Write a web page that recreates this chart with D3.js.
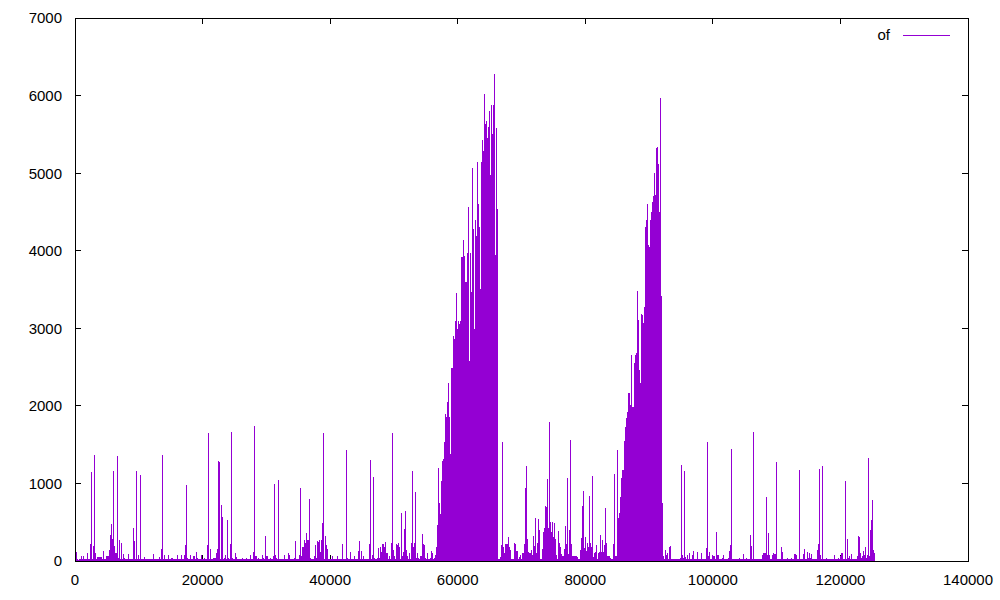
<!DOCTYPE html>
<html>
<head>
<meta charset="utf-8">
<script src="https://cdn.jsdelivr.net/npm/d3@7/dist/d3.min.js"></script>
<style>
  html, body { margin: 0; padding: 0; background: #fff; }
  svg { display: block; }
  text { font-family: "Liberation Sans", Arial, sans-serif; font-size: 15px; fill: #000; }
</style>
</head>
<body>
<svg id="chart" width="1000" height="600"></svg>
<script>
// Series "of": impulses sampled every sampleStep units of x, starting at x = 0
const seriesName = "of";
const sampleStep = 156.77;
const ofValues = [
  160,120,120,20,15,20,20,70,20,70,20,30,20,100,20,30,220,1150,30,190,
  1370,100,30,50,50,50,50,50,30,130,20,20,65,65,65,140,335,477,285,1160,
  190,107,107,1350,40,270,30,235,20,90,40,20,20,20,85,20,20,20,30,430,
  260,20,1160,30,77,20,1110,20,30,20,55,20,20,30,25,20,20,20,20,90,
  20,20,20,30,20,55,30,155,1370,20,77,30,20,20,77,20,20,40,40,30,
  20,20,20,77,20,20,20,77,20,20,77,200,980,45,20,20,77,20,20,65,
  65,20,120,45,20,20,20,77,20,20,45,20,20,200,1650,20,155,20,20,45,
  45,45,100,155,1290,1280,20,720,563,20,45,77,20,530,45,20,220,1660,45,20,
  20,100,55,20,20,30,20,20,45,20,20,20,45,20,20,20,77,20,20,120,
  1740,65,65,20,45,20,20,20,77,45,20,320,65,65,20,20,45,20,20,65,
  990,77,45,20,1045,20,20,20,20,20,77,20,20,20,100,77,20,20,20,20,
  45,260,20,20,20,77,945,65,175,175,270,230,355,270,270,800,45,20,20,20,
  65,205,45,260,250,270,120,270,485,1650,30,320,205,150,20,20,20,20,65,20,
  20,20,20,65,20,20,20,20,220,20,20,20,1430,45,20,20,120,20,20,20,
  65,20,20,20,130,260,30,130,20,65,20,20,20,20,20,220,1300,30,77,1087,
  45,20,30,45,165,45,175,120,220,220,185,250,107,100,30,65,30,230,1650,140,
  65,20,220,205,230,185,30,620,65,120,410,650,140,65,20,100,20,235,1160,185,
  235,895,45,100,45,20,65,65,350,220,205,45,20,100,30,20,45,130,107,20,
  45,77,180,465,1200,750,600,1030,1290,1315,1530,1900,1860,2055,2295,1860,1380,2490,2490,2900,
  2860,3100,3450,2990,3100,3050,3100,3920,3920,4140,3930,3600,3600,3970,4560,2580,3970,3470,5060,4280,
  2990,4390,4190,5150,4600,4300,3510,5150,5430,5280,6020,5630,5670,5450,5600,5800,4970,5880,5500,5880,
  6280,3950,5580,4540,20,20,50,205,1540,185,100,220,220,220,315,185,140,30,30,30,
  230,220,130,130,30,55,77,30,100,100,220,935,1225,290,120,100,100,140,77,320,
  195,555,100,235,535,400,30,30,150,370,420,710,690,1055,420,1790,500,380,500,305,
  485,290,77,30,385,235,185,90,65,65,150,450,220,1065,90,400,1560,220,65,70,
  70,70,70,55,30,30,140,300,710,905,170,315,135,230,185,840,235,185,1095,55,
  100,120,205,30,100,120,335,120,270,120,205,680,230,60,60,70,40,20,20,220,
  1120,70,70,1430,550,615,830,1065,1175,1175,1550,1730,1840,1925,2160,2170,2010,2655,1990,1990,
  2550,2655,2680,3485,3105,2460,2290,3190,3170,3065,3280,4310,4395,4600,4075,4050,4395,4500,4630,4700,
  5000,4720,5320,5340,5120,4500,5965,3415,745,65,30,140,77,107,30,175,195,30,20,20,
  20,20,20,20,20,20,45,1240,77,45,1160,55,30,77,30,100,30,20,77,130,
  30,20,30,120,30,20,20,107,30,20,20,20,165,1535,65,120,30,20,77,65,
  65,20,380,77,77,20,20,20,45,77,20,20,20,30,45,130,205,1440,30,20,
  20,20,20,20,20,45,20,20,20,90,20,20,45,20,20,20,335,195,30,1665,
  30,20,20,30,20,20,20,20,77,100,100,100,820,77,357,77,20,30,77,100,
  90,90,1280,20,30,20,20,175,120,20,20,20,20,45,20,20,20,45,20,20,
  90,90,77,30,30,1175,20,20,30,90,150,30,20,120,45,100,45,90,20,20,
  20,20,20,140,220,1190,77,20,1220,20,20,20,45,20,20,20,30,20,20,20,
  77,20,30,30,45,20,65,100,100,20,20,1030,20,285,45,65,20,90,20,30,
  20,20,20,65,320,315,107,45,65,133,77,175,45,77,1330,65,400,530,785,140,
  107
];
const xTicks = [0, 20000, 40000, 60000, 80000, 100000, 120000, 140000];
const yTicks = [0, 1000, 2000, 3000, 4000, 5000, 6000, 7000];
const xDomain = [0, 140000];
const yDomain = [0, 7000];

const data = ofValues.map((v, i) => ({ x: i * sampleStep, y: v }));

const svg = d3.select("#chart");
const plotLeft = 75, plotRight = 968, plotTop = 18, plotBottom = 561;
const x = d3.scaleLinear().domain(xDomain).range([plotLeft, plotRight]);
const y = d3.scaleLinear().domain(yDomain).range([plotBottom, plotTop]);
const color = "#9400d3";
const snap = v => Math.floor(v) + 0.5;

svg.append("rect").attr("width", 1000).attr("height", 600).attr("fill", "#fff");

// ticks (inward, mirrored)
const tk = svg.append("g").attr("stroke", "#000").attr("stroke-width", 1).attr("shape-rendering", "crispEdges");
yTicks.forEach(t => {
  const yy = snap(y(t));
  tk.append("line").attr("x1", plotLeft).attr("x2", plotLeft + 6).attr("y1", yy).attr("y2", yy);
  tk.append("line").attr("x1", plotRight - 6).attr("x2", plotRight).attr("y1", yy).attr("y2", yy);
});
xTicks.forEach(t => {
  const xx = snap(x(t));
  tk.append("line").attr("x1", xx).attr("x2", xx).attr("y1", plotBottom).attr("y2", plotBottom - 6);
  tk.append("line").attr("x1", xx).attr("x2", xx).attr("y1", plotTop).attr("y2", plotTop + 6);
});

// impulses
svg.append("g")
  .attr("stroke", color).attr("stroke-width", 1).attr("shape-rendering", "crispEdges")
  .selectAll("line").data(data).join("line")
  .attr("x1", d => snap(x(d.x))).attr("x2", d => snap(x(d.x)))
  .attr("y1", y(0)).attr("y2", d => y(d.y));

// border
svg.append("rect")
  .attr("x", plotLeft + 0.5).attr("y", plotTop + 0.5)
  .attr("width", plotRight - plotLeft).attr("height", plotBottom - plotTop)
  .attr("fill", "none").attr("stroke", "#000").attr("stroke-width", 1);

// tick labels
svg.append("g").selectAll("text").data(yTicks).join("text")
  .attr("x", 62).attr("y", d => y(d)).attr("dy", "0.36em")
  .attr("text-anchor", "end").text(d => d);
svg.append("g").selectAll("text").data(xTicks).join("text")
  .attr("x", d => x(d)).attr("y", 585)
  .attr("text-anchor", "middle").text(d => d);

// legend
svg.append("text").attr("x", 890).attr("y", 40).attr("text-anchor", "end").text(seriesName);
svg.append("line").attr("x1", 903).attr("x2", 950).attr("y1", 35.5).attr("y2", 35.5)
  .attr("stroke", color).attr("stroke-width", 1);
</script>
</body>
</html>
